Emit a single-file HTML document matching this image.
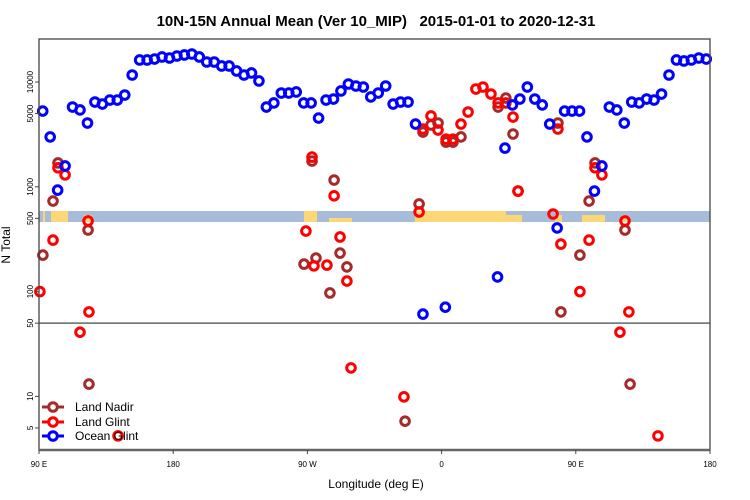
<!DOCTYPE html>
<html><head><meta charset="utf-8"><style>
html,body{margin:0;padding:0;background:#fff;}
svg{display:block;font-family:"Liberation Sans",Arial,sans-serif;}
</style></head><body>
<svg id="chart" width="750" height="500" viewBox="0 0 750 500" xmlns="http://www.w3.org/2000/svg">
<text x="376" y="26" text-anchor="middle" font-size="15" font-weight="bold" style="white-space:pre">10N-15N Annual Mean (Ver 10_MIP)   2015-01-01 to 2020-12-31</text>
<g id="band"></g>
<g id="grid"></g>
<g id="marks"></g>
<g id="axes"></g>
<text x="376" y="488" text-anchor="middle" font-size="12">Longitude (deg E)</text>
<text transform="translate(10,245) rotate(-90)" text-anchor="middle" font-size="12">N Total</text>
<g id="legend"></g>
</svg>
<script>
const nadirLon = [92.6,99.4,102.75,122.9,123.5,267.75,273.1,275.75,285.1,287.9,291.9,296.5,335.5,344.9,347.5,352.9,357.6,363,367.6,373,397.9,403.1,407.9,411.25,438,440,452.75,458.9,462.9,483,486.4];
const nadirVal = [223,731,1690,387,13.1,183,1760,209,97,1160,233,172,5.8,686,3330,3890,4060,2670,2670,2990,5770,7030,3190,910,4060,64,223,731,1690,387,13.1];
const glintLon = [90.6,99.4,102.75,107.5,117.5,122.9,123.5,143,269,273.1,274.4,283.1,287.9,291.9,296.5,299.25,334.75,344.9,347.5,352.9,357.6,363,367.6,373,377.75,383,387.75,393.1,397.9,403.1,407.9,411.25,434.75,438,440,452.75,458.9,462.9,467.5,479.6,483,485.6,505.1];
const glintVal = [100,310,1520,1300,41,472,64,4.2,378,1920,176,179,820,332,126,18.7,9.9,575,3560,4740,3480,2850,2850,3970,5170,8570,8960,7680,6310,6310,4630,910,550,3560,284,100,310,1520,1300,41,472,64,4.2];
const oceanLon = [92.5,97.5,102.5,107.5,112.5,117.5,122.5,127.5,132.5,137.5,142.5,147.5,152.5,157.5,162.5,167.5,172.5,177.5,182.5,187.5,192.5,197.5,202.5,207.5,212.5,217.5,222.5,227.5,232.5,237.5,242.5,247.5,252.5,257.5,262.5,267.5,272.5,277.5,282.5,287.5,292.5,297.5,302.5,307.5,312.5,317.5,322.5,327.5,332.5,337.5,342.5,347.5,362.5,397.5,402.5,407.5,412.5,417.5,422.5,427.5,432.5,437.5,442.5,447.5,452.5,457.5,462.5,467.5,472.5,477.5,482.5,487.5,492.5,497.5,502.5,507.5,512.5,517.5,522.5,527.5,532.5,537.5];
const oceanVal = [5280,2990,930,1580,5770,5410,4060,6440,6160,6730,6730,7510,11660,16220,16220,16560,17330,16940,17700,18110,18500,17330,15520,15520,14220,14220,12740,11660,12190,10230,5770,6310,7850,7850,8030,6310,6310,4530,6730,6880,8210,9570,9160,8960,7200,7850,9160,6160,6440,6440,3970,61,71,138,2340,6040,6880,8960,6880,6040,3970,405,5280,5280,5280,2990,910,1580,5770,5410,4060,6440,6310,6880,6730,7680,11660,16220,15870,16220,16940,16560];
const yTicks = [5,10,50,100,500,1000,5000,10000];
const xTickLon = [90,180,270,360,450,540];
const xTickLabels = ["90 E","180","90 W","0","90 E","180"];

const NS="http://www.w3.org/2000/svg";
const L=39,R=710,T=39,B=450;
function xs(lon){return L+(lon-90)*(R-L)/450;}
function ys(v){return 82+(4-Math.log10(v))*104.8;}
function mk(tag,attrs,parent){const e=document.createElementNS(NS,tag);for(const k in attrs)e.setAttribute(k,attrs[k]);parent.appendChild(e);return e;}

const band=document.getElementById('band');
mk('rect',{x:L,y:211,width:R-L,height:11,fill:'#A7BCD9'},band);
const landSegs=[[51,68,0],[43,45,0],[84,92,1],[304,317,0],[329,352,2],[415,506,0],[503,522,1],[555,562,1],[582,605,1],[622,627,1]];
landSegs.forEach(s=>{const h=s[2]==0?11:(s[2]==1?7:4);
 const r=mk('rect',{x:s[0],y:222-h,width:s[1]-s[0],height:h,fill:'#FDD675'},band);
 
 });

const grid=document.getElementById('grid');
const gl=mk('line',{x1:L,x2:R,y1:ys(50),y2:ys(50),stroke:'#666','stroke-width':1.5},grid);



const marks=document.getElementById('marks');
function series(lons,vals,color,name){
 const g=mk('g',{},marks);
 
 
 for(let i=0;i<lons.length;i++){
  const c=mk('circle',{cx:xs(lons[i]),cy:ys(vals[i]),r:4.3,fill:'none',stroke:color,'stroke-width':3},g);
  
  
 }
}
series(nadirLon,nadirVal,'#A52A2A','land-nadir');
series(glintLon,glintVal,'#FF0000','land-glint');
series(oceanLon,oceanVal,'#0000FF','ocean-glint');

const ax=document.getElementById('axes');
const box=mk('rect',{x:L,y:T,width:R-L,height:B-T,fill:'none',stroke:'#444','stroke-width':1.3},ax);


const bl=mk('line',{x1:L,x2:R,y1:B,y2:B,stroke:'#666','stroke-width':2.5},ax);


yTicks.forEach(v=>{const y=ys(v);
 mk('line',{x1:L-4,x2:L,y1:y,y2:y,stroke:'#444'},ax);
 const t=mk('text',{transform:`translate(33,${y}) rotate(-90)`,'text-anchor':'middle','font-size':8},ax);
 t.textContent=v;
 
 });
for(let i=0;i<xTickLabels.length;i++){const x=xs(xTickLon[i]);
 mk('line',{x1:x,x2:x,y1:B,y2:B+4,stroke:'#444'},ax);
 const t=mk('text',{x:x,y:467,'text-anchor':'middle','font-size':8},ax);
 t.textContent=xTickLabels[i];
 
 }

const lg=document.getElementById('legend');
[['Land Nadir','#A52A2A',407],['Land Glint','#FF0000',422],['Ocean Glint','#0000FF',436]].forEach(e=>{
 const g=mk('g',{},lg);
 
 
 mk('line',{x1:42,x2:64,y1:e[2],y2:e[2],stroke:e[1],'stroke-width':3},g);
 mk('circle',{cx:53,cy:e[2],r:4.3,fill:'#fff',stroke:e[1],'stroke-width':3},g);
 const t=mk('text',{x:75,y:e[2]+4,'font-size':12},g);
 t.textContent=e[0];});
</script>
</body></html>
